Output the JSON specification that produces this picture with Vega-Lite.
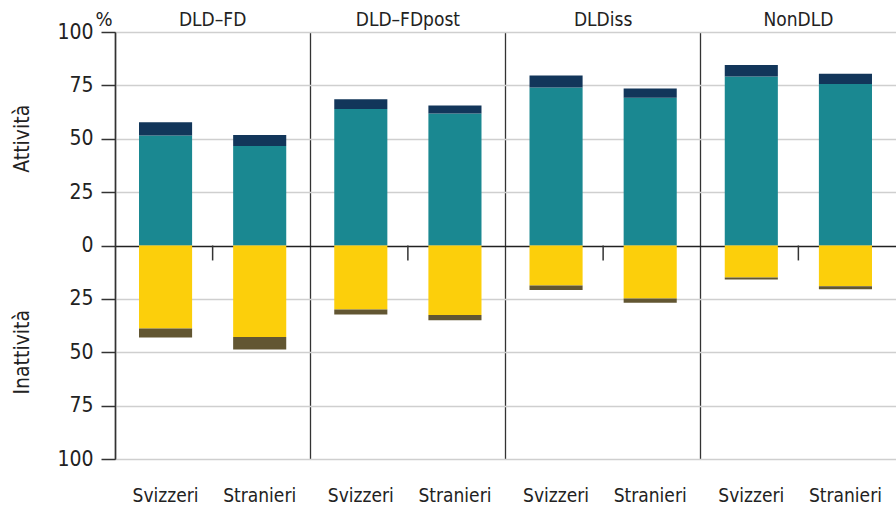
{
  "$schema": "https://vega.github.io/schema/vega-lite/v6.json",
  "width": 781,
  "height": 427,
  "autosize": {"type": "none"},
  "padding": {"left": 115, "top": 32, "right": 0, "bottom": 49},
  "config": {
    "view": {"stroke": null},
    "font": "DejaVu Sans Condensed, sans-serif",
    "text": {"font": "DejaVu Sans Condensed, sans-serif", "color": "#222222"}
  },
  "datasets": {
    "bars": [
      {"group": "DLD–FD", "nation": "Svizzeri", "comp": "Occupati", "value": 51.5},
      {"group": "DLD–FD", "nation": "Svizzeri", "comp": "Disoccupati", "value": 6.2},
      {"group": "DLD–FD", "nation": "Svizzeri", "comp": "Inattivi", "value": -38.9},
      {"group": "DLD–FD", "nation": "Svizzeri", "comp": "Altri inattivi", "value": -4.2},
      {"group": "DLD–FD", "nation": "Stranieri", "comp": "Occupati", "value": 46.6},
      {"group": "DLD–FD", "nation": "Stranieri", "comp": "Disoccupati", "value": 5.1},
      {"group": "DLD–FD", "nation": "Stranieri", "comp": "Inattivi", "value": -42.9},
      {"group": "DLD–FD", "nation": "Stranieri", "comp": "Altri inattivi", "value": -5.8},
      {"group": "DLD–FDpost", "nation": "Svizzeri", "comp": "Occupati", "value": 63.9},
      {"group": "DLD–FDpost", "nation": "Svizzeri", "comp": "Disoccupati", "value": 4.6},
      {"group": "DLD–FDpost", "nation": "Svizzeri", "comp": "Inattivi", "value": -30.0},
      {"group": "DLD–FDpost", "nation": "Svizzeri", "comp": "Altri inattivi", "value": -2.3},
      {"group": "DLD–FDpost", "nation": "Stranieri", "comp": "Occupati", "value": 61.8},
      {"group": "DLD–FDpost", "nation": "Stranieri", "comp": "Disoccupati", "value": 3.8},
      {"group": "DLD–FDpost", "nation": "Stranieri", "comp": "Inattivi", "value": -32.5},
      {"group": "DLD–FDpost", "nation": "Stranieri", "comp": "Altri inattivi", "value": -2.5},
      {"group": "DLDiss", "nation": "Svizzeri", "comp": "Occupati", "value": 74.0},
      {"group": "DLDiss", "nation": "Svizzeri", "comp": "Disoccupati", "value": 5.6},
      {"group": "DLDiss", "nation": "Svizzeri", "comp": "Inattivi", "value": -18.7},
      {"group": "DLDiss", "nation": "Svizzeri", "comp": "Altri inattivi", "value": -2.1},
      {"group": "DLDiss", "nation": "Stranieri", "comp": "Occupati", "value": 69.2},
      {"group": "DLDiss", "nation": "Stranieri", "comp": "Disoccupati", "value": 4.3},
      {"group": "DLDiss", "nation": "Stranieri", "comp": "Inattivi", "value": -24.8},
      {"group": "DLDiss", "nation": "Stranieri", "comp": "Altri inattivi", "value": -2.0},
      {"group": "NonDLD", "nation": "Svizzeri", "comp": "Occupati", "value": 79.2},
      {"group": "NonDLD", "nation": "Svizzeri", "comp": "Disoccupati", "value": 5.3},
      {"group": "NonDLD", "nation": "Svizzeri", "comp": "Inattivi", "value": -15.0},
      {"group": "NonDLD", "nation": "Svizzeri", "comp": "Altri inattivi", "value": -0.9},
      {"group": "NonDLD", "nation": "Stranieri", "comp": "Occupati", "value": 75.7},
      {"group": "NonDLD", "nation": "Stranieri", "comp": "Disoccupati", "value": 4.7},
      {"group": "NonDLD", "nation": "Stranieri", "comp": "Inattivi", "value": -19.1},
      {"group": "NonDLD", "nation": "Stranieri", "comp": "Altri inattivi", "value": -1.4}
    ],
    "groups": [
      {"group": "DLD–FD"},
      {"group": "DLD–FDpost"},
      {"group": "DLDiss"},
      {"group": "NonDLD"}
    ]
  },
  "encoding": {
    "x": {
      "field": "group",
      "type": "nominal",
      "sort": ["DLD–FD", "DLD–FDpost", "DLDiss", "NonDLD"],
      "scale": {"paddingInner": 0, "paddingOuter": 0},
      "axis": {
        "labels": false,
        "ticks": false,
        "domain": false,
        "grid": true,
        "gridColor": "#333333",
        "gridWidth": 1.3,
        "bandPosition": 0,
        "title": null
      }
    }
  },
  "layer": [
    {
      "data": {"name": "bars"},
      "mark": {"type": "bar"},
      "encoding": {
        "xOffset": {
          "field": "nation",
          "type": "nominal",
          "sort": ["Svizzeri", "Stranieri"],
          "scale": {"paddingInner": 0.436, "paddingOuter": 0.255}
        },
        "y": {
          "field": "value",
          "type": "quantitative",
          "stack": "zero",
          "scale": {"domain": [-100, 100], "nice": false, "zero": true},
          "axis": {
            "values": [-100, -75, -50, -25, 0, 25, 50, 75, 100],
            "labelExpr": "'' + abs(datum.value)",
            "title": "%",
            "titleAngle": 0,
            "titleAlign": "right",
            "titleBaseline": "alphabetic",
            "titleX": -3,
            "titleY": -7,
            "titleFontSize": 20,
            "titleFontWeight": "normal",
            "titleColor": "#222222",
            "titleFont": "DejaVu Sans Condensed, sans-serif",
            "grid": true,
            "gridColor": {"condition": {"test": "datum.value === 0", "value": "#222222"}, "value": "#cfcfcf"},
            "gridWidth": 1.5,
            "domainColor": "#333333",
            "domainWidth": 1.5,
            "tickColor": "#333333",
            "tickWidth": 1.5,
            "tickSize": 14,
            "labelPadding": 8,
            "labelFontSize": 21,
            "labelColor": "#222222",
            "labelFont": "DejaVu Sans Condensed, sans-serif"
          }
        },
        "color": {
          "field": "comp",
          "type": "nominal",
          "sort": ["Occupati", "Disoccupati", "Inattivi", "Altri inattivi"],
          "scale": {
            "domain": ["Occupati", "Disoccupati", "Inattivi", "Altri inattivi"],
            "range": ["#1a8891", "#12365a", "#fccf0b", "#625632"]
          },
          "legend": null
        }
      }
    },
    {
      "data": {"name": "groups"},
      "mark": {"type": "rule", "color": "#333333", "strokeWidth": 1.5},
      "encoding": {
        "y": {"datum": 0, "type": "quantitative"},
        "y2": {"datum": -7}
      }
    },
    {
      "data": {"name": "groups"},
      "mark": {"type": "text", "baseline": "alphabetic", "dy": -6, "fontSize": 19},
      "encoding": {
        "y": {"datum": 100, "type": "quantitative"},
        "text": {"field": "group"}
      }
    },
    {
      "data": {"name": "bars"},
      "transform": [{"filter": "datum.comp === 'Occupati'"}],
      "mark": {"type": "text", "baseline": "alphabetic", "dy": 43, "fontSize": 19},
      "encoding": {
        "xOffset": {
          "field": "nation",
          "type": "nominal",
          "sort": ["Svizzeri", "Stranieri"],
          "scale": {"paddingInner": 0.436, "paddingOuter": 0.255}
        },
        "y": {"datum": -100, "type": "quantitative"},
        "text": {"field": "nation"}
      }
    },
    {
      "data": {"name": "groups"},
      "transform": [{"filter": "datum.group === 'DLD–FD'"}],
      "mark": {"type": "text", "angle": 270, "align": "center", "baseline": "middle", "dy": -190, "fontSize": 21},
      "encoding": {
        "y": {"datum": 50, "type": "quantitative"},
        "text": {"value": "Attività"}
      }
    },
    {
      "data": {"name": "groups"},
      "transform": [{"filter": "datum.group === 'DLD–FD'"}],
      "mark": {"type": "text", "angle": 270, "align": "center", "baseline": "middle", "dy": -190, "fontSize": 21},
      "encoding": {
        "y": {"datum": -50, "type": "quantitative"},
        "text": {"value": "Inattività"}
      }
    }
  ]
}
